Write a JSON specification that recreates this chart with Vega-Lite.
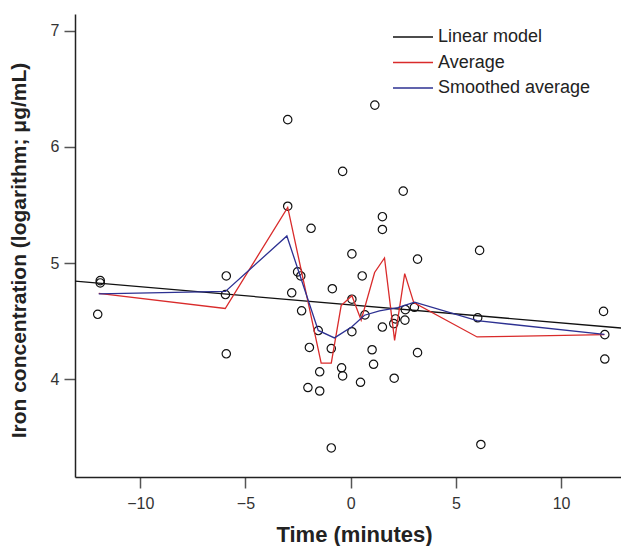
{
  "$schema": "https://vega.github.io/schema/vega-lite/v6.json",
  "width": 546,
  "height": 463,
  "autosize": "none",
  "padding": {"left": 75, "top": 14, "right": 0, "bottom": 69},
  "background": "white",
  "config": {
    "view": {"stroke": null},
    "font": "Liberation Sans",
    "axis": {"grid": false, "domainColor": "#222", "domainWidth": 1.5, "tickColor": "#555", "tickWidth": 1.5, "tickSize": 11, "labelFontSize": 16, "labelColor": "#333", "labelFont": "Liberation Sans", "titleFont": "Liberation Sans", "titleFontWeight": "bold", "titleColor": "#222", "format": "d"}
  },
  "datasets": {
    "pts": [
      {"t": -11.9, "v": 4.85}, {"t": -11.9, "v": 4.83}, {"t": -12.02, "v": 4.56},
      {"t": -5.91, "v": 4.89}, {"t": -5.95, "v": 4.73}, {"t": -5.91, "v": 4.22},
      {"t": -2.99, "v": 6.235}, {"t": -2.99, "v": 5.49}, {"t": -2.8, "v": 4.745},
      {"t": -2.52, "v": 4.925}, {"t": -2.37, "v": 4.89}, {"t": -2.33, "v": 4.59},
      {"t": -1.88, "v": 5.3}, {"t": -1.96, "v": 4.275}, {"t": -2.03, "v": 3.93},
      {"t": -1.54, "v": 4.42}, {"t": -1.47, "v": 4.065}, {"t": -1.47, "v": 3.9},
      {"t": -0.87, "v": 4.78}, {"t": -0.92, "v": 4.265}, {"t": -0.92, "v": 3.41},
      {"t": -0.38, "v": 5.79}, {"t": -0.43, "v": 4.1}, {"t": -0.38, "v": 4.03},
      {"t": 0.06, "v": 5.08}, {"t": 0.06, "v": 4.69}, {"t": 0.06, "v": 4.41},
      {"t": 0.55, "v": 4.89}, {"t": 0.68, "v": 4.555}, {"t": 0.47, "v": 3.975},
      {"t": 1.15, "v": 6.36}, {"t": 1.02, "v": 4.255}, {"t": 1.09, "v": 4.13},
      {"t": 1.51, "v": 5.4}, {"t": 1.51, "v": 5.29}, {"t": 1.51, "v": 4.45},
      {"t": 2.05, "v": 4.48}, {"t": 2.13, "v": 4.52}, {"t": 2.07, "v": 4.01},
      {"t": 2.5, "v": 5.62}, {"t": 2.6, "v": 4.6}, {"t": 2.58, "v": 4.51},
      {"t": 3.03, "v": 4.62}, {"t": 3.18, "v": 5.035}, {"t": 3.18, "v": 4.23},
      {"t": 6.04, "v": 4.53}, {"t": 6.13, "v": 5.11}, {"t": 6.19, "v": 3.44},
      {"t": 12.02, "v": 4.585}, {"t": 12.08, "v": 4.385}, {"t": 12.08, "v": 4.175}
    ],
    "lines": [
      {"series": "Linear model", "t": -13.1, "v": 4.845},
      {"series": "Linear model", "t": 12.85, "v": 4.442},
      {"series": "Average", "t": -11.97, "v": 4.74},
      {"series": "Average", "t": -5.96, "v": 4.61},
      {"series": "Average", "t": -2.99, "v": 5.48},
      {"series": "Average", "t": -1.4, "v": 4.14},
      {"series": "Average", "t": -0.92, "v": 4.14},
      {"series": "Average", "t": -0.45, "v": 4.635},
      {"series": "Average", "t": 0.06, "v": 4.72},
      {"series": "Average", "t": 0.5, "v": 4.51},
      {"series": "Average", "t": 1.14, "v": 4.92},
      {"series": "Average", "t": 1.61, "v": 5.045},
      {"series": "Average", "t": 2.09, "v": 4.335},
      {"series": "Average", "t": 2.57, "v": 4.91},
      {"series": "Average", "t": 3.0, "v": 4.66},
      {"series": "Average", "t": 6.01, "v": 4.365},
      {"series": "Average", "t": 7.55, "v": 4.37},
      {"series": "Average", "t": 12.06, "v": 4.385},
      {"series": "Smoothed average", "t": -11.97, "v": 4.735},
      {"series": "Smoothed average", "t": -5.95, "v": 4.757},
      {"series": "Smoothed average", "t": -3.03, "v": 5.234},
      {"series": "Smoothed average", "t": -1.54, "v": 4.421},
      {"series": "Smoothed average", "t": -0.77, "v": 4.357},
      {"series": "Smoothed average", "t": 0.06, "v": 4.453},
      {"series": "Smoothed average", "t": 0.66, "v": 4.552},
      {"series": "Smoothed average", "t": 1.37, "v": 4.59},
      {"series": "Smoothed average", "t": 2.24, "v": 4.617},
      {"series": "Smoothed average", "t": 3.04, "v": 4.665},
      {"series": "Smoothed average", "t": 6.01, "v": 4.505},
      {"series": "Smoothed average", "t": 12.06, "v": 4.387}
    ]
  },
  "layer": [
    {
      "data": {"name": "pts"},
      "mark": {"type": "point", "shape": "circle", "filled": false, "size": 70, "stroke": "#111", "strokeWidth": 1.2, "opacity": 1},
      "encoding": {
        "x": {"field": "t", "type": "quantitative", "scale": {"domain": [-13.1, 12.85], "nice": false, "zero": false},
          "axis": {"title": "Time (minutes)", "values": [-10, -5, 0, 5, 10], "titleFontSize": 22, "titleX": 279, "titleY": 64.5, "titleBaseline": "alphabetic", "labelPadding": 7}},
        "y": {"field": "v", "type": "quantitative", "scale": {"domain": [3.16, 7.144], "nice": false, "zero": false},
          "axis": {"title": "Iron concentration (logarithm; μg/mL)", "values": [4, 5, 6, 7], "titleFontSize": 21, "titleX": -50, "titleY": 236, "titleBaseline": "alphabetic", "titleAngle": -90, "labelPadding": 5}}
      }
    },
    {
      "data": {"name": "lines"},
      "mark": {"type": "line", "strokeWidth": 1.3, "clip": true},
      "encoding": {
        "x": {"field": "t", "type": "quantitative"},
        "y": {"field": "v", "type": "quantitative"},
        "color": {"field": "series", "type": "nominal",
          "scale": {"domain": ["Linear model", "Average", "Smoothed average"], "range": ["#111111", "#d92b2b", "#2d3192"]},
          "legend": {"title": null, "orient": "none", "legendX": 327, "legendY": 12, "padding": 0, "symbolType": "M-2,0H2", "symbolSize": 400, "symbolStrokeWidth": 1.6, "labelFontSize": 18, "labelColor": "#222", "labelOffset": 14, "rowPadding": 5.5}
        }
      }
    }
  ]
}
